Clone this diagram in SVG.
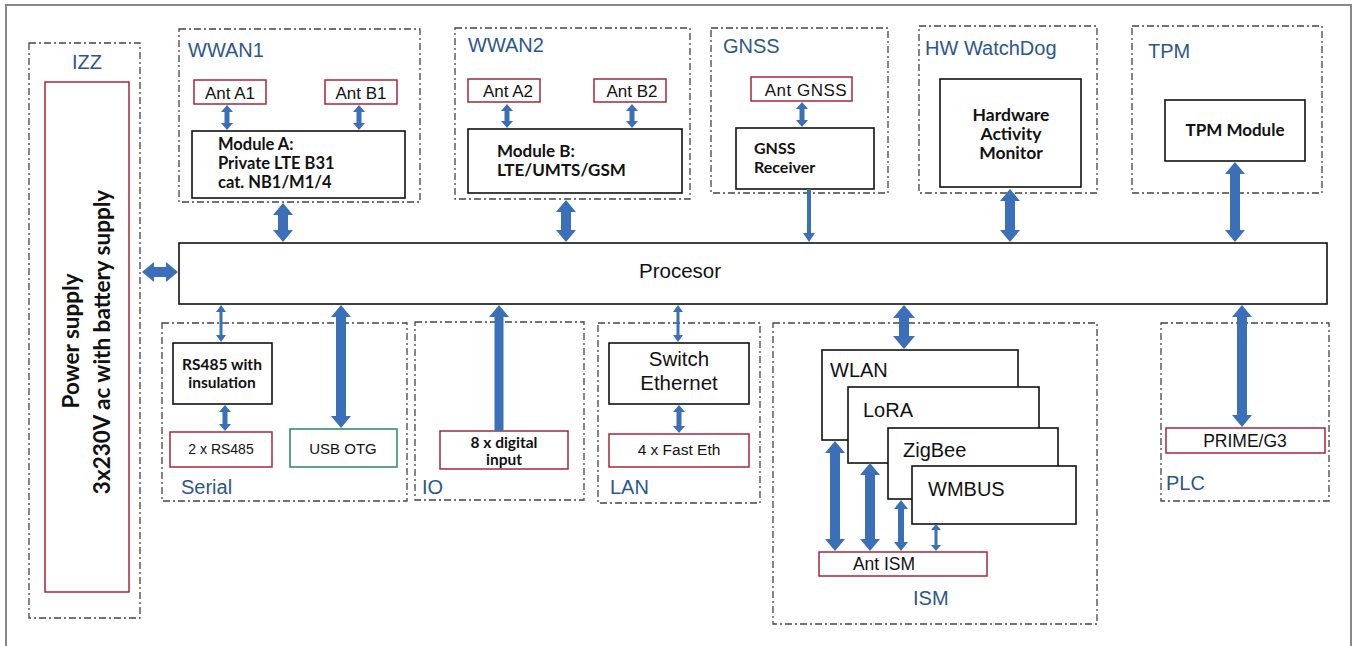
<svg xmlns="http://www.w3.org/2000/svg" width="1356" height="646" viewBox="0 0 1356 646">
<style>
.grp{fill:none;stroke:#444;stroke-width:1.3;stroke-dasharray:7 3 2 3}
.blk{fill:#fff;stroke:#111;stroke-width:1.6}
.red{fill:#fff;stroke:#a3293c;stroke-width:1.5}
.grn{fill:#fff;stroke:#3a8a6e;stroke-width:1.6}
.lbl{font-family:"Liberation Sans",Arial,sans-serif;font-size:20px;fill:#2e5787}
.t{font-family:"Liberation Sans",Arial,sans-serif;fill:#111}
.b{font-family:Lato,"Open Sans",sans-serif;font-weight:bold;fill:#111}
.arr{fill:#3b70b8}
</style>
<rect x="6" y="5" width="1345" height="660" fill="#fff" stroke="#888" stroke-width="2"/>

<g id="izz">
<rect class="grp" x="29" y="43" width="111" height="575"/>
<text class="lbl" x="87" y="69" text-anchor="middle">IZZ</text>
<rect class="red" x="45" y="82" width="84" height="510"/>
<text class="b" font-size="22.5" transform="translate(79,341) rotate(-90)" text-anchor="middle">Power supply</text>
<text class="b" font-size="22.5" transform="translate(110,342) rotate(-90)" text-anchor="middle">3x230V ac with battery supply</text>
</g>

<g id="wwan1">
<rect class="grp" x="179" y="29" width="241" height="173"/>
<text class="lbl" x="188" y="57">WWAN1</text>
<rect class="red" x="194" y="80" width="72" height="24"/>
<text class="t" font-size="17" x="230" y="99" text-anchor="middle">Ant A1</text>
<rect class="red" x="325" y="80" width="72" height="24"/>
<text class="t" font-size="17" x="361" y="99" text-anchor="middle">Ant B1</text>
<rect class="blk" x="192" y="131" width="213" height="67"/>
<text class="b" font-size="16.5" x="218" y="150">Module A:</text>
<text class="b" font-size="16.5" x="218" y="169">Private LTE B31</text>
<text class="b" font-size="16.5" x="218" y="188">cat. NB1/M1/4</text>
</g>

<g id="wwan2">
<rect class="grp" x="455" y="28" width="235" height="171"/>
<text class="lbl" x="468" y="52">WWAN2</text>
<rect class="red" x="468" y="79" width="72" height="23"/>
<text class="t" font-size="17" x="508" y="97" text-anchor="middle">Ant A2</text>
<rect class="red" x="594" y="79" width="72" height="23"/>
<text class="t" font-size="17" x="632" y="97" text-anchor="middle">Ant B2</text>
<rect class="blk" x="468" y="129" width="214" height="64"/>
<text class="b" font-size="17" x="497" y="157">Module B:</text>
<text class="b" font-size="17" x="497" y="176">LTE/UMTS/GSM</text>
</g>

<g id="gnss">
<rect class="grp" x="711" y="28" width="177" height="165"/>
<text class="lbl" x="723" y="53">GNSS</text>
<rect class="red" x="751" y="77" width="101" height="24"/>
<text class="t" font-size="17" x="806" y="96" text-anchor="middle" letter-spacing="0.5">Ant GNSS</text>
<rect class="blk" x="736" y="128" width="138" height="61"/>
<text class="b" font-size="16" x="754" y="154">GNSS</text>
<text class="b" font-size="16" x="754" y="173">Receiver</text>
</g>

<g id="watchdog">
<rect class="grp" x="919" y="26" width="178" height="167"/>
<text class="lbl" x="925" y="55">HW WatchDog</text>
<rect class="blk" x="940" y="79" width="141" height="108"/>
<text class="b" font-size="17.5" x="1011" y="121" text-anchor="middle">Hardware</text>
<text class="b" font-size="17.5" x="1011" y="140" text-anchor="middle">Activity</text>
<text class="b" font-size="17.5" x="1011" y="159" text-anchor="middle">Monitor</text>
</g>

<g id="tpm">
<rect class="grp" x="1132" y="26" width="190" height="167"/>
<text class="lbl" x="1148" y="58">TPM</text>
<rect class="blk" x="1165" y="100" width="140" height="61"/>
<text class="b" font-size="17" x="1235" y="136" text-anchor="middle">TPM Module</text>
</g>

<g id="processor">
<rect class="blk" x="179" y="243" width="1148" height="61"/>
<text class="t" font-size="20.5" x="680" y="278" text-anchor="middle">Procesor</text>
</g>

<g id="serial">
<rect class="grp" x="162" y="323" width="245" height="178"/>
<text class="lbl" x="181" y="494">Serial</text>
<rect class="blk" x="173" y="343" width="99" height="61"/>
<text class="b" font-size="15.5" x="222" y="370" text-anchor="middle">RS485 with</text>
<text class="b" font-size="15.5" x="222" y="388" text-anchor="middle">insulation</text>
<rect class="red" x="170" y="432" width="102" height="35"/>
<text class="t" font-size="14" x="221" y="454" text-anchor="middle">2 x RS485</text>
<rect class="grn" x="290" y="429" width="107" height="38"/>
<text class="t" font-size="15" x="343" y="454" text-anchor="middle">USB OTG</text>
</g>

<g id="io">
<rect class="grp" x="415" y="322" width="169" height="178"/>
<text class="lbl" x="422" y="494">IO</text>
<rect class="red" x="440" y="431" width="128" height="38"/>
<text class="b" font-size="15.5" x="504" y="448" text-anchor="middle">8 x digital</text>
<text class="b" font-size="15.5" x="504" y="465" text-anchor="middle">input</text>
</g>

<g id="lan">
<rect class="grp" x="598" y="323" width="162" height="180"/>
<text class="lbl" x="610" y="494">LAN</text>
<rect class="blk" x="609" y="343" width="140" height="61"/>
<text class="t" font-size="20.5" x="679" y="366" text-anchor="middle">Switch</text>
<text class="t" font-size="20.5" x="679" y="390" text-anchor="middle">Ethernet</text>
<rect class="red" x="609" y="434" width="140" height="33"/>
<text class="t" font-size="15.5" x="679" y="455" text-anchor="middle">4 x Fast Eth</text>
</g>

<g id="ism">
<rect class="grp" x="773" y="323" width="324" height="301"/>
<text class="lbl" x="913" y="605">ISM</text>
<rect class="blk" x="822" y="350" width="196" height="90"/>
<text class="t" font-size="20" x="830" y="377">WLAN</text>
<rect class="blk" x="848" y="387" width="191" height="76"/>
<text class="t" font-size="20" x="863" y="417">LoRA</text>
<rect class="blk" x="888" y="428" width="170" height="71"/>
<text class="t" font-size="20" x="903" y="457">ZigBee</text>
<rect class="blk" x="912" y="466" width="164" height="58"/>
<text class="t" font-size="20" x="928" y="496">WMBUS</text>
<rect class="red" x="819" y="552" width="168" height="24"/>
<text class="t" font-size="17.5" x="884" y="570" text-anchor="middle">Ant ISM</text>
</g>

<g id="plc">
<rect class="grp" x="1161" y="323" width="168" height="178"/>
<text class="lbl" x="1166" y="490">PLC</text>
<rect class="red" x="1166" y="428" width="159" height="25"/>
<text class="t" font-size="17.5" x="1245" y="447" text-anchor="middle">PRIME/G3</text>
</g>

<g id="connectors" class="arr">
<polygon points="227,105 233,112 229.5,112 229.5,123 233,123 227,130 221,123 224.5,123 224.5,112 221,112"/>
<polygon points="359,105 365,112 361.5,112 361.5,123 365,123 359,130 353,123 356.5,123 356.5,112 353,112"/>
<polygon points="507,104 513,111 509.5,111 509.5,121 513,121 507,128 501,121 504.5,121 504.5,111 501,111"/>
<polygon points="632,104 638,111 634.5,111 634.5,121 638,121 632,128 626,121 629.5,121 629.5,111 626,111"/>
<polygon points="802,102 808,109 804.5,109 804.5,120 808,120 802,127 796,120 799.5,120 799.5,109 796,109"/>
<polygon points="283,203 293,215 288,215 288,230 293,230 283,242 273,230 278,230 278,215 273,215"/>
<polygon points="566,200 576,212 571,212 571,230 576,230 566,242 556,230 561,230 561,212 556,212"/>
<polygon points="807,189 811,189 811,233 815,233 809,242 803,233 807,233"/>
<polygon points="1010,189 1020,201 1015,201 1015,230 1020,230 1010,242 1000,230 1005,230 1005,201 1000,201"/>
<polygon points="1235,162 1245,174 1240,174 1240,230 1245,230 1235,242 1225,230 1230,230 1230,174 1225,174"/>
<polygon points="142,272 154,262 154,267 166,267 166,262 178,272 166,282 166,277 154,277 154,282"/>
<polygon points="221,305 226,312 222.5,312 222.5,335 226,335 221,342 216,335 219.5,335 219.5,312 216,312"/>
<polygon points="225,405 231,412 227.5,412 227.5,424 231,424 225,431 219,424 222.5,424 222.5,412 219,412"/>
<polygon points="341,305 351,317 346,317 346,416 351,416 341,428 331,416 336,416 336,317 331,317"/>
<polygon points="499,305 509,317 503.5,317 503.5,431 494.5,431 494.5,317 489,317"/>
<polygon points="678,305 683,312 679.5,312 679.5,335 683,335 678,342 673,335 676.5,335 676.5,312 673,312"/>
<polygon points="679,405 685,412 681.5,412 681.5,426 685,426 679,433 673,426 676.5,426 676.5,412 673,412"/>
<polygon points="904,305 915,318 909,318 909,336 915,336 904,349 893,336 899,336 899,318 893,318"/>
<polygon points="835,441 845,453 840,453 840,539 845,539 835,551 825,539 830,539 830,453 825,453"/>
<polygon points="870,463 880,475 875,475 875,539 880,539 870,551 860,539 865,539 865,475 860,475"/>
<polygon points="901,500 908,509 904,509 904,542 908,542 901,551 894,542 898,542 898,509 894,509"/>
<polygon points="936,524 941,530 937.5,530 937.5,545 941,545 936,551 931,545 934.5,545 934.5,530 931,530"/>
<polygon points="1242,305 1252,317 1247,317 1247,415 1252,415 1242,427 1232,415 1237,415 1237,317 1232,317"/>
</g>
</svg>
